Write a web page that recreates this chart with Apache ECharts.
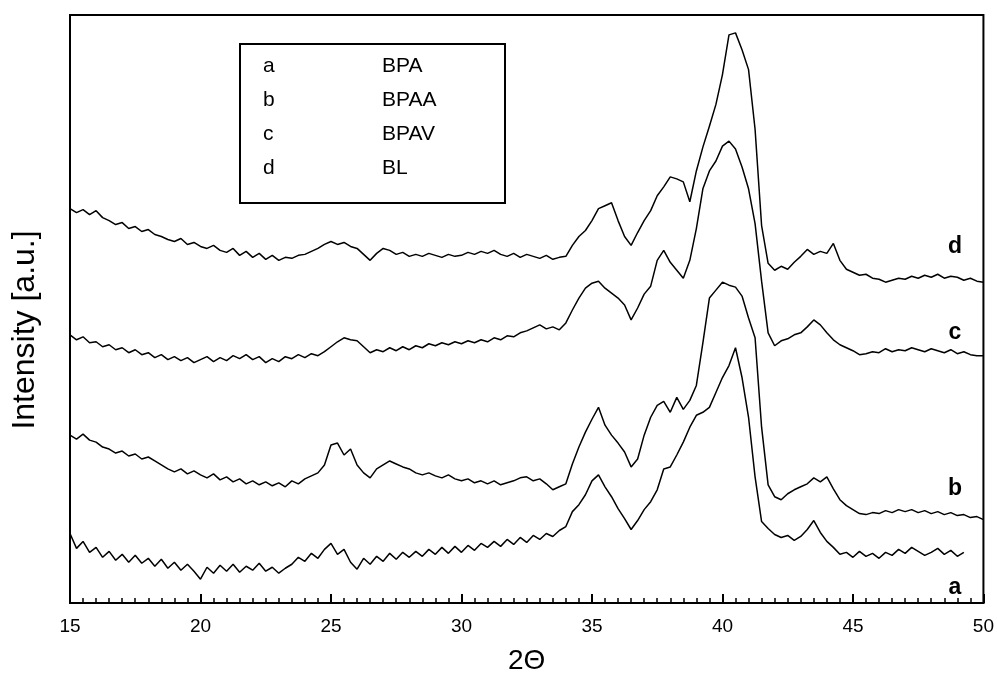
<!DOCTYPE html>
<html>
<head>
<meta charset="utf-8">
<script src="https://cdn.jsdelivr.net/npm/echarts@6/dist/echarts.min.js"></script>
<style>
html,body{margin:0;padding:0;background:#fff;}
#chart{width:997px;height:680px;}
</style>
</head>
<body>
<div id="chart"></div>
<script>
// 2-theta sampling grid: start 15, step 0.25 deg
const thetaStart = 15;
const thetaStep = 0.25;

const xTicks = [15, 20, 25, 30, 35, 40, 45, 50];

const seriesNames = ['a', 'b', 'c', 'd'];
const sampleNames = ['BPA', 'BPAA', 'BPAV', 'BL'];
const yTitle = 'Intensity [a.u.]';
const xTitle = '2Θ';

// Intensity (a.u.), one row per degree (x.00, x.25, x.50, x.75)
const curveA = [
  70, 55, 62, 51,   // 15
  56, 46, 52, 43,   // 16
  49, 41, 48, 40,   // 17
  45, 37, 44, 35,   // 18
  41, 33, 39, 32,   // 19
  24, 36, 30, 38,   // 20
  32, 39, 31, 37,   // 21
  33, 40, 32, 36,   // 22
  30, 35, 39, 46,   // 23
  42, 50, 45, 54,   // 24
  60, 49, 54, 41,   // 25
  34, 45, 39, 47,   // 26
  42, 50, 44, 51,   // 27
  46, 52, 47, 54,   // 28
  49, 56, 50, 57,   // 29
  51, 58, 53, 60,   // 30
  56, 62, 57, 64,   // 31
  59, 66, 61, 68,   // 32
  64, 70, 67, 73,   // 33
  77, 92, 99, 109,  // 34
  123, 129, 117, 107, // 35
  95, 85, 74, 83,   // 36
  94, 102, 114, 135, // 37
  137, 149, 162, 177, // 38
  189, 192, 197, 212, // 39
  227, 239, 257, 227, // 40
  187, 127, 82, 75, // 41
  69, 66, 68, 63,   // 42
  67, 74, 83, 71,   // 43
  62, 56, 49, 51,   // 44
  46, 52, 47, 50,   // 45
  45, 51, 48, 54,   // 46
  50, 56, 52, 48,   // 47
  51, 55, 49, 53,   // 48
  47, 51            // 49
];

const curveB = [
  169, 165, 170, 164, // 15
  162, 157, 155, 151, // 16
  153, 148, 150, 145, // 17
  147, 143, 139, 135, // 18
  132, 135, 130, 133, // 19
  129, 126, 130, 124, // 20
  127, 122, 125, 120, // 21
  123, 119, 122, 118, // 22
  121, 117, 123, 120, // 23
  125, 128, 131, 139, // 24
  159, 161, 149, 155, // 25
  139, 131, 126, 135, // 26
  139, 143, 140, 137, // 27
  135, 131, 129, 131, // 28
  128, 126, 129, 125, // 29
  123, 125, 121, 123, // 30
  120, 123, 119, 121, // 31
  123, 126, 127, 123, // 32
  125, 120, 114, 117, // 33
  120, 140, 157, 172, // 34
  185, 197, 179, 169, // 35
  161, 152, 137, 145, // 36
  169, 187, 199, 203, // 37
  192, 207, 195, 204, // 38
  219, 262, 307, 315, // 39
  323, 320, 318, 309, // 40
  287, 267, 177, 119, // 41
  107, 104, 110, 114, // 42
  117, 120, 126, 122, // 43
  127, 115, 104, 98,  // 44
  94, 90, 89, 91,     // 45
  90, 93, 91, 94,     // 46
  92, 94, 91, 93,     // 47
  90, 92, 89, 91,     // 48
  88, 89, 86, 87,     // 49
  84                  // 50
];

const curveC = [
  270, 265, 268, 262, // 15
  263, 258, 260, 255, // 16
  257, 252, 255, 250, // 17
  252, 247, 250, 245, // 18
  248, 244, 247, 242, // 19
  245, 248, 243, 247, // 20
  244, 249, 246, 250, // 21
  245, 248, 242, 246, // 22
  243, 248, 246, 250, // 23
  247, 251, 249, 253, // 24
  258, 263, 267, 265, // 25
  264, 258, 252, 255, // 26
  253, 257, 254, 258, // 27
  255, 259, 257, 261, // 28
  259, 262, 260, 263, // 29
  261, 264, 262, 265, // 30
  263, 267, 265, 269, // 31
  268, 272, 274, 277, // 32
  280, 276, 278, 275, // 33
  282, 295, 307, 317, // 34
  322, 324, 317, 312, // 35
  307, 300, 285, 297, // 36
  311, 319, 345, 355, // 37
  343, 335, 327, 345, // 38
  377, 417, 435, 445, // 39
  460, 465, 457, 439, // 40
  417, 382, 324, 272, // 41
  259, 264, 266, 270, // 42
  272, 278, 285, 280, // 43
  272, 265, 260, 257, // 44
  254, 250, 251, 253, // 45
  252, 256, 253, 255, // 46
  254, 257, 255, 253, // 47
  256, 254, 252, 255, // 48
  251, 253, 250, 249, // 49
  249                 // 50
];

const curveD = [
  397, 393, 396, 391, // 15
  395, 388, 385, 381, // 16
  383, 377, 379, 374, // 17
  376, 371, 369, 366, // 18
  364, 367, 361, 363, // 19
  359, 357, 360, 355, // 20
  353, 357, 350, 354, // 21
  348, 352, 346, 350, // 22
  345, 348, 347, 350, // 23
  351, 354, 357, 361, // 24
  364, 361, 363, 359, // 25
  357, 351, 345, 352, // 26
  357, 355, 351, 353, // 27
  349, 351, 349, 352, // 28
  350, 348, 351, 349, // 29
  350, 353, 351, 354, // 30
  352, 355, 351, 349, // 31
  352, 348, 351, 349, // 32
  347, 350, 346, 348, // 33
  349, 360, 369, 375, // 34
  385, 397, 400, 403, // 35
  385, 369, 360, 373, // 36
  385, 395, 410, 419, // 37
  429, 427, 424, 404, // 38
  435, 459, 480, 502, // 39
  532, 572, 574, 557, // 40
  537, 477, 380, 342, // 41
  335, 339, 336, 343, // 42
  349, 356, 351, 354, // 43
  352, 362, 345, 336, // 44
  333, 330, 331, 327, // 45
  326, 323, 325, 327, // 46
  326, 329, 327, 330, // 47
  328, 331, 327, 329, // 48
  328, 325, 327, 324, // 49
  323                 // 50
];

function toPairs(arr) {
  return arr.map((v, i) => [thetaStart + i * thetaStep, v]);
}

const chart = echarts.init(document.getElementById('chart'), null, {renderer: 'canvas'});
const curves = [curveA, curveB, curveC, curveD];

const FONT = 'Liberation Sans, Arial, sans-serif';

const option = {
  animation: false,
  backgroundColor: '#fff',
  grid: {left: 70, right: 13, top: 15, bottom: 73, show: true, borderColor: '#000', borderWidth: 2, backgroundColor: 'transparent'},
  xAxis: {
    type: 'value', min: xTicks[0], max: xTicks[xTicks.length - 1], interval: 5,
    name: xTitle, nameLocation: 'middle', nameGap: 44,
    nameTextStyle: {fontFamily: FONT, fontSize: 28, color: '#000'},
    axisLine: {lineStyle: {color: '#000', width: 2}},
    axisTick: {inside: true, length: 9, lineStyle: {color: '#000', width: 2}},
    minorTick: {show: true, splitNumber: 10, length: 5, lineStyle: {color: '#000', width: 1.5}},
    splitLine: {show: false},
    axisLabel: {color: '#000', fontSize: 19, fontFamily: FONT, margin: 14}
  },
  yAxis: {
    type: 'value', min: 0, max: 592,
    axisLine: {show: false}, axisTick: {show: false}, axisLabel: {show: false}, splitLine: {show: false}
  },
  series: curves.map((c, k) => ({
    name: seriesNames[k], type: 'line', data: toPairs(c), showSymbol: false, symbol: 'none',
    lineStyle: {color: '#000', width: 1.5}, z: 3
  })),
  graphic: [
    {type: 'text', x: 25, y: 330, rotation: Math.PI / 2, z: 11,
      style: {text: yTitle, font: '32px ' + FONT, fill: '#000', align: 'center', verticalAlign: 'middle'}},
    {type: 'rect', shape: {x: 240, y: 44, width: 265, height: 159}, style: {fill: '#fff', stroke: '#000', lineWidth: 2}, z: 10},
    ...seriesNames.map((n, i) => ({type: 'text', x: 263, y: 66 + i * 34, z: 11,
      style: {text: n, font: '21px ' + FONT, fill: '#000', verticalAlign: 'middle'}})),
    ...sampleNames.map((n, i) => ({type: 'text', x: 382, y: 66 + i * 34, z: 11,
      style: {text: n, font: '21px ' + FONT, fill: '#000', verticalAlign: 'middle'}})),
    {type: 'text', x: 955, y: 588, z: 11, style: {text: seriesNames[0], font: 'bold 23px ' + FONT, fill: '#000', align: 'center', verticalAlign: 'middle'}},
    {type: 'text', x: 955, y: 489, z: 11, style: {text: seriesNames[1], font: 'bold 23px ' + FONT, fill: '#000', align: 'center', verticalAlign: 'middle'}},
    {type: 'text', x: 955, y: 333, z: 11, style: {text: seriesNames[2], font: 'bold 23px ' + FONT, fill: '#000', align: 'center', verticalAlign: 'middle'}},
    {type: 'text', x: 955, y: 247, z: 11, style: {text: seriesNames[3], font: 'bold 23px ' + FONT, fill: '#000', align: 'center', verticalAlign: 'middle'}}
  ]
};
chart.setOption(option);
</script>
</body>
</html>
